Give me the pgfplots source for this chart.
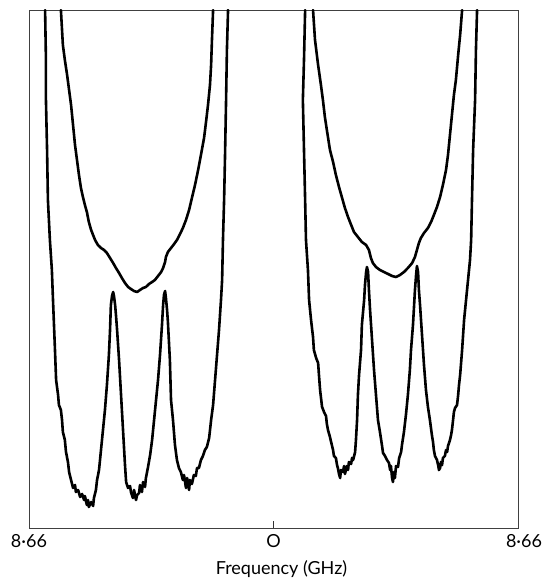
\documentclass[border=0pt]{standalone}
\usepackage{fontspec}
\setmainfont{Lato}
\usepackage{pgfplots}
\pgfplotsset{compat=1.18}

\begin{document}
\begin{tikzpicture}
\useasboundingbox (-29pt,-57pt) rectangle (521pt,528pt);
\begin{axis}[
    at={(0,0)}, anchor=south west,
    scale only axis,
    width=489pt, height=518pt,
    xmin=-8.66, xmax=8.66,
    ymin=0, ymax=518,
    enlargelimits=false,
    axis line style={black!75, line width=0.9pt},
    xtick={-8.66,0,8.66},
    xticklabels={8·66,O,\hspace*{12pt}8·66},
    ytick=\empty,
    xtick pos=bottom,
    tick align=inside,
    major tick length=7pt,
    tick style={black!80, line width=0.9pt},
    x tick label style={font=\fontsize{18}{20}\selectfont, inner sep=6pt},
    xlabel={Frequency (GHz)},
    xlabel style={font=\fontsize{18}{20}\selectfont, at={(rel axis cs:0.5,0)}, anchor=north, inner sep=0pt, yshift=-32pt, xshift=8pt},
    trace/.style={black, line width=2.6pt, line join=round, line cap=round},
]

% left pair, lower trace (two peaks)
\addplot[trace] coordinates {
(-8.09,518) (-8.06,468) (-8.06,428) (-8.02,378) (-7.99,328) (-7.92,288)
(-7.85,258) (-7.81,228) (-7.74,178) (-7.70,148) (-7.63,133) (-7.60,123)
(-7.53,118) (-7.49,108) (-7.46,96) (-7.39,88) (-7.35,76) (-7.28,66)
(-7.24,56) (-7.17,48) (-7.10,40) (-7.03,43) (-7.00,36) (-6.92,38)
(-6.85,31) (-6.78,34) (-6.71,28) (-6.68,32) (-6.61,23) (-6.57,28)
(-6.54,21) (-6.46,26) (-6.39,22) (-6.36,30) (-6.29,38) (-6.25,48)
(-6.18,58) (-6.11,78) (-6.04,98) (-5.97,118) (-5.90,143) (-5.83,173)
(-5.79,198) (-5.76,223) (-5.72,232) (-5.68,236) (-5.65,232) (-5.61,223)
(-5.58,213) (-5.54,198) (-5.47,168) (-5.40,133) (-5.33,98) (-5.26,63)
(-5.22,46) (-5.15,40) (-5.08,42) (-5.05,36) (-4.98,30) (-4.94,38)
(-4.87,28) (-4.83,33) (-4.76,35) (-4.73,43) (-4.66,36) (-4.62,46)
(-4.55,41) (-4.52,50) (-4.45,60) (-4.37,73) (-4.30,88) (-4.23,108)
(-4.16,128) (-4.09,148) (-4.02,173) (-3.95,203) (-3.91,223) (-3.88,233)
(-3.84,237) (-3.81,230) (-3.77,218) (-3.74,206) (-3.67,168) (-3.63,128)
(-3.56,108) (-3.49,83) (-3.42,68) (-3.35,60) (-3.28,56) (-3.21,48)
(-3.17,53) (-3.10,40) (-3.06,50) (-2.99,38) (-2.96,48) (-2.89,44)
(-2.82,53) (-2.75,52) (-2.71,60) (-2.64,60) (-2.57,68) (-2.50,72)
(-2.43,78) (-2.36,81) (-2.28,90) (-2.21,108) (-2.14,123) (-2.07,148)
(-2.00,173) (-1.93,198) (-1.86,228) (-1.82,248) (-1.79,288) (-1.75,328)
(-1.72,368) (-1.68,428) (-1.65,478) (-1.61,518)
};

% left pair, upper trace (U)
\addplot[trace] coordinates {
(-7.53,518) (-7.49,498) (-7.46,483) (-7.39,468) (-7.31,453) (-7.24,438)
(-7.17,423) (-7.10,403) (-7.03,383) (-6.96,368) (-6.89,353) (-6.82,340)
(-6.75,331) (-6.68,323) (-6.61,316) (-6.54,306) (-6.46,298) (-6.39,293)
(-6.32,288) (-6.22,283) (-6.11,280) (-6.00,278) (-5.90,275) (-5.79,270)
(-5.68,265) (-5.58,260) (-5.47,255) (-5.37,250) (-5.26,245) (-5.15,241)
(-5.05,239) (-4.94,237) (-4.83,236) (-4.73,238) (-4.62,240) (-4.52,241)
(-4.41,244) (-4.30,246) (-4.20,248) (-4.09,252) (-3.98,256) (-3.91,260)
(-3.84,266) (-3.81,271) (-3.74,276) (-3.63,280) (-3.52,284) (-3.42,288)
(-3.31,294) (-3.21,300) (-3.10,308) (-2.99,318) (-2.89,330) (-2.78,343)
(-2.67,358) (-2.57,373) (-2.46,390) (-2.39,406) (-2.32,423) (-2.25,443)
(-2.21,463) (-2.18,488) (-2.14,518)
};

% right pair, lower trace (two peaks)
\addplot[trace] coordinates {
(1.12,518) (1.08,468) (1.04,428) (1.08,378) (1.12,328) (1.15,288)
(1.22,258) (1.26,228) (1.33,208) (1.40,191) (1.43,178) (1.51,170)
(1.58,165) (1.61,153) (1.65,138) (1.72,121) (1.79,116) (1.86,112)
(1.89,104) (1.93,98) (2.00,91) (2.04,86) (2.11,78) (2.14,72)
(2.21,70) (2.25,63) (2.28,60) (2.32,54) (2.36,50) (2.39,58)
(2.46,56) (2.50,62) (2.53,54) (2.60,62) (2.64,58) (2.67,66)
(2.75,64) (2.78,70) (2.82,68) (2.89,76) (2.92,88) (2.96,108)
(2.99,133) (3.03,153) (3.10,178) (3.13,203) (3.21,228) (3.24,243)
(3.28,256) (3.31,261) (3.35,256) (3.38,238) (3.42,218) (3.49,188)
(3.56,158) (3.63,133) (3.70,108) (3.77,96) (3.84,83) (3.88,75)
(3.95,72) (4.02,68) (4.09,65) (4.13,58) (4.16,62) (4.20,50)
(4.23,46) (4.27,56) (4.30,50) (4.34,62) (4.41,61) (4.45,70)
(4.52,76) (4.55,83) (4.62,96) (4.69,113) (4.76,133) (4.83,158)
(4.87,178) (4.94,203) (4.98,223) (5.01,238) (5.05,253) (5.08,262)
(5.12,256) (5.15,238) (5.19,223) (5.26,193) (5.33,163) (5.40,138)
(5.47,121) (5.54,108) (5.61,93) (5.65,86) (5.68,78) (5.72,72)
(5.79,68) (5.83,63) (5.86,58) (5.90,60) (5.93,66) (5.97,63)
(6.00,70) (6.07,72) (6.11,78) (6.15,76) (6.18,82) (6.25,88)
(6.29,93) (6.32,98) (6.36,108) (6.39,116) (6.43,120) (6.50,123)
(6.54,133) (6.57,143) (6.61,153) (6.68,178) (6.75,208) (6.82,228)
(6.89,248) (6.96,268) (7.00,288) (7.03,328) (7.07,378) (7.14,428)
(7.17,478) (7.21,518)
};

% right pair, upper trace (U)
\addplot[trace] coordinates {
(1.40,518) (1.47,488) (1.58,463) (1.68,443) (1.75,428) (1.82,411)
(1.89,398) (2.00,378) (2.11,366) (2.21,353) (2.32,341) (2.43,330)
(2.53,320) (2.64,311) (2.75,303) (2.85,296) (2.99,291) (3.13,286)
(3.28,283) (3.38,278) (3.45,270) (3.52,265) (3.63,261) (3.77,258)
(3.91,256) (4.06,254) (4.20,252) (4.34,251) (4.48,253) (4.62,256)
(4.76,260) (4.91,265) (5.01,271) (5.08,278) (5.15,285) (5.22,290)
(5.33,295) (5.47,300) (5.58,306) (5.68,313) (5.79,321) (5.90,331)
(6.00,343) (6.11,358) (6.18,373) (6.25,393) (6.32,413) (6.39,433)
(6.46,448) (6.54,473) (6.61,493) (6.68,518)
};

\end{axis}
\end{tikzpicture}
\end{document}
